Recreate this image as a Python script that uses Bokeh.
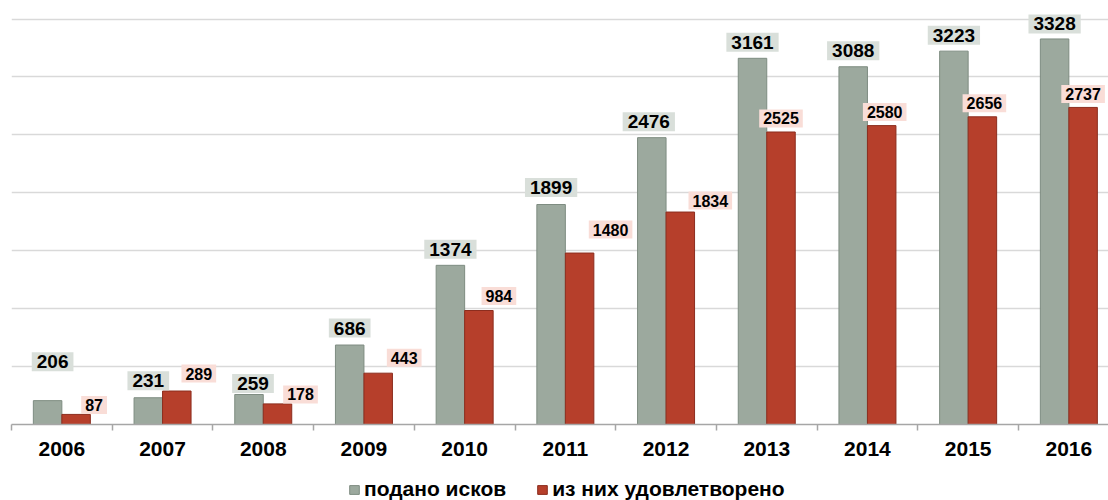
from bokeh.plotting import figure
from bokeh.layouts import column
from bokeh.models import (ColumnDataSource, Range1d, FixedTicker, SingleIntervalTicker,
                          Legend, LegendItem)
from bokeh.core.properties import value
from bokeh.embed import file_html
from bokeh.resources import INLINE

# ---------------- data ----------------
years = [2006, 2007, 2008, 2009, 2010, 2011, 2012, 2013, 2014, 2015, 2016]
filed = [206, 231, 259, 686, 1374, 1899, 2476, 3161, 3088, 3223, 3328]
granted = [87, 289, 178, 443, 984, 1480, 1834, 2525, 2580, 2656, 2737]
series_names = ["подано исков", "из них удовлетворено"]

# ---------------- style / layout ----------------
FONT = "Liberation Sans"
GRAY = "#9CA99E"
GRAY_EDGE = "#7E8C81"
RED = "#B63F2B"
RED_EDGE = "#8C2D1E"
GRAY_BG = "#D9DFDA"
RED_BG = "#F9DDD7"
bar_w = 0.283
shift = bar_w / 2
# manual label nudges (pixels), as in the source chart
gray_gap = [27, 5, -1, 5, 4, 5, 4, 4, 4, 4, 3]
gray_dx = [5, 0, 4, 0, 0, 0, -3, 0, 0, 0, 0]
red_gap = [-1, 7, -1, 5, 4, 13, 1, 3, 3, 3, 3]
red_dx = [18, 22, 23, 26, 20, 31, 30, 0, 3, 2, 0]
GRAY_BOX_H = 24
RED_BOX_H = 21

src = ColumnDataSource(dict(
    x_f=[y - shift for y in years],
    x_g=[y + shift for y in years],
    filed=filed,
    granted=granted,
    filed_txt=[str(v) for v in filed],
    granted_txt=[str(v) for v in granted],
    gdx=gray_dx,
    gdy=[-(g + GRAY_BOX_H / 2) for g in gray_gap],
    rdx=red_dx,
    rdy=[-(g + RED_BOX_H / 2) for g in red_gap],
))

W = 1108
LEFT = 11
FRAME_W = W - LEFT
FRAME_H = 424
BELOW = 48
x_start = years[0] - 0.5
x_end = x_start + FRAME_W / 100.7

p = figure(width=W, height=FRAME_H + BELOW,
           x_range=Range1d(x_start, x_end), y_range=Range1d(0, 3660),
           output_backend="svg", toolbar_location=None,
           min_border_left=LEFT, min_border_right=0, min_border_top=0, min_border_bottom=BELOW,
           background_fill_color="white", border_fill_color="white")
p.outline_line_color = None

# grid
p.xgrid.visible = False
p.yaxis.visible = False
p.ygrid.ticker = SingleIntervalTicker(interval=500)
p.ygrid.grid_line_color = "#D9D9D9"
p.ygrid.grid_line_width = 1.5

# x axis
p.xaxis.ticker = FixedTicker(ticks=years, minor_ticks=[y - 0.5 for y in years] + [years[-1] + 0.5])
p.xaxis.major_tick_line_color = None
p.xaxis.minor_tick_out = 6
p.xaxis.minor_tick_in = 0
p.xaxis.minor_tick_line_color = "#A6A6A6"
p.xaxis.minor_tick_line_width = 1.5
p.xaxis.axis_line_color = "#A6A6A6"
p.xaxis.axis_line_width = 1.5
p.xaxis.major_label_text_font = FONT
p.xaxis.major_label_text_font_style = "bold"
p.xaxis.major_label_text_font_size = "21px"
p.xaxis.major_label_text_color = "black"
p.xaxis.major_label_standoff = 11

p.vbar(x="x_f", top="filed", width=bar_w, source=src,
       fill_color=GRAY, line_color=GRAY_EDGE, line_width=1)
p.vbar(x="x_g", top="granted", width=bar_w, source=src,
       fill_color=RED, line_color=RED_EDGE, line_width=1)

p.text(x="x_f", y="filed", text="filed_txt", source=src,
       x_offset="gdx", y_offset="gdy",
       text_align="center", text_baseline="middle",
       text_font=value(FONT), text_font_style="bold", text_font_size="19px",
       text_color="black", background_fill_color=GRAY_BG, padding=(5, 3))
p.text(x="x_g", y="granted", text="granted_txt", source=src,
       x_offset="rdx", y_offset="rdy",
       text_align="center", text_baseline="middle",
       text_font=value(FONT), text_font_style="bold", text_font_size="16px",
       text_color="black", background_fill_color=RED_BG, padding=(4, 3))

# ---------------- legend strip ----------------
LEG_H = 500 - FRAME_H - BELOW
lg = figure(width=W, height=LEG_H, x_range=Range1d(0, 1), y_range=Range1d(0, 1),
            output_backend="svg", toolbar_location=None,
            min_border_left=0, min_border_right=0, min_border_top=0, min_border_bottom=0,
            background_fill_color="white", border_fill_color="white")
lg.outline_line_color = None
lg.axis.visible = False
lg.grid.visible = False
# legend swatches: same series, outside this strip's visible range
s1 = lg.vbar(x="x_f", top="filed", width=bar_w, source=src, fill_color=GRAY, line_color=GRAY_EDGE)
s2 = lg.vbar(x="x_g", top="granted", width=bar_w, source=src, fill_color=RED, line_color=RED_EDGE)
legend = Legend(items=[LegendItem(label=series_names[0], renderers=[s1]),
                       LegendItem(label=series_names[1], renderers=[s2])],
                orientation="horizontal", location=(337, -1),
                label_text_font=FONT, label_text_font_style="bold",
                label_text_font_size="21px", label_text_color="black",
                glyph_width=12, glyph_height=11, label_standoff=4, spacing=30,
                border_line_color=None, background_fill_alpha=0,
                padding=0, margin=0)
lg.add_layout(legend)

open("out.html", "w").write(file_html(column(p, lg, spacing=0), INLINE))
